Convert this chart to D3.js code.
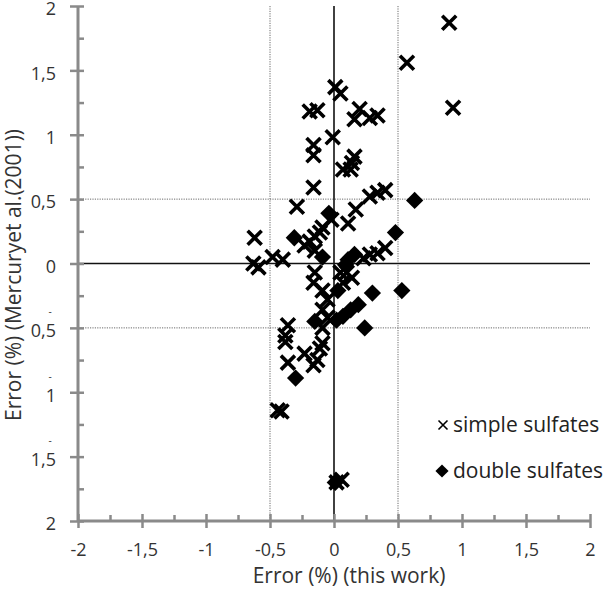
<!DOCTYPE html>
<html>
<head>
<meta charset="utf-8">
<script src="https://cdn.jsdelivr.net/npm/d3@7"></script>
<style>
  html, body { margin: 0; padding: 0; background: #fff; }
  svg { display: block; font-family: "Open Sans", "DejaVu Sans", sans-serif; }
</style>
</head>
<body>
<svg id="chart" width="605" height="590"></svg>
<script>
// Error of this work (x) vs. error of Mercury et al. 2001 (y), in %
const simpleX = [0.90, 0.57, 0.93, 0.01, 0.05, -0.19, -0.13, 0.20, 0.16, 0.28, 0.34, -0.01,
  -0.16, -0.16, 0.16, 0.14, 0.07, 0.13, -0.16, -0.29, 0.28, 0.34, 0.40, 0.17, 0.11, -0.02,
  -0.62, -0.09, -0.11, -0.15, -0.19, -0.23, -0.15, 0.40, 0.34, 0.28, 0.23, -0.63, -0.59,
  -0.48, -0.40, 0.05, 0.10, 0.14, 0.07, -0.15, -0.16, -0.09, -0.05, -0.09, -0.05, -0.09,
  -0.36, -0.38, -0.38, -0.09, -0.11, -0.23, -0.13, -0.36, -0.16, -0.44, -0.41, 0.02, 0.06];
const simpleY = [1.87, 1.56, 1.21, 1.37, 1.32, 1.18, 1.19, 1.20, 1.12, 1.13, 1.15, 0.98,
  0.92, 0.84, 0.83, 0.78, 0.73, 0.73, 0.59, 0.44, 0.52, 0.55, 0.57, 0.42, 0.31, 0.34,
  0.20, 0.28, 0.24, 0.21, 0.17, 0.14, 0.10, 0.12, 0.08, 0.07, 0.04, 0.00, -0.03,
  0.05, 0.03, -0.07, -0.07, -0.11, -0.15, -0.07, -0.15, -0.21, -0.28, -0.36, -0.42, -0.50,
  -0.48, -0.56, -0.61, -0.62, -0.66, -0.70, -0.75, -0.77, -0.79, -1.14, -1.15, -1.70, -1.68];

const doubleX = [0.63, -0.04, 0.48, -0.31, -0.09, 0.16, 0.11, 0.09, 0.03, 0.30, 0.53,
  0.19, 0.13, 0.07, 0.02, -0.15, 0.24, -0.30, 0.01];
const doubleY = [0.49, 0.39, 0.24, 0.20, 0.05, 0.07, 0.03, -0.01, -0.21, -0.23, -0.21,
  -0.32, -0.36, -0.41, -0.44, -0.45, -0.50, -0.89, -1.70];

const xTickValues = [-2, -1.5, -1, -0.5, 0, 0.5, 1, 1.5, 2];
const xTickLabels = ["-2", "-1,5", "-1", "-0,5", "0", "0,5", "1", "1,5", "2"];
const yTickValues = [2, 1.5, 1, 0.5, 0, -0.5, -1, -1.5, -2];
const yTickLabels = ["2", "1,5", "1", "0,5", "0", "-0,5", "-1", "-1,5", "2"];
const minorTicks = [-1.75, -1.25, -0.75, -0.25, 0.25, 0.75, 1.25, 1.75];
const guideValues = [-0.5, 0.5];

const seriesNames = ["simple sulfates", "double sulfates"];
const xTitle = "Error (%) (this work)";
const yTitle = "Error (%) (Mercuryet al.(2001))";

const svg = d3.select("#chart");
const x = d3.scaleLinear().domain([-2, 2]).range([78, 590]);
const y = d3.scaleLinear().domain([-2, 2]).range([521, 6]);

const axisColor = "#8a8a8a";
const textColor = "#333";

// dotted guides at ±0.5
const guides = svg.append("g");
guides.selectAll("line.v").data(guideValues).join("line")
  .attr("x1", d => x(d)).attr("x2", d => x(d))
  .attr("y1", y(2)).attr("y2", y(-2))
  .attr("stroke", "#6a6a6a").attr("stroke-width", 1).attr("stroke-dasharray", "1.2,1.2");
guides.selectAll("line.h").data(guideValues).join("line")
  .attr("y1", d => y(d)).attr("y2", d => y(d))
  .attr("x1", x(-2)).attr("x2", x(2))
  .attr("stroke", "#6a6a6a").attr("stroke-width", 1).attr("stroke-dasharray", "1.2,1.2");

// solid zero lines
svg.append("line").attr("x1", x(0)).attr("x2", x(0)).attr("y1", y(2)).attr("y2", y(-2))
  .attr("stroke", "#111").attr("stroke-width", 1.6);
svg.append("line").attr("x1", x(-2)).attr("x2", x(2)).attr("y1", y(0)).attr("y2", y(0))
  .attr("stroke", "#111").attr("stroke-width", 1.6);

// axes: major ticks cross the axis line, minor ticks point inward
function styleAxis(g) {
  g.select(".domain").remove();
  g.selectAll(".tick line").attr("stroke", axisColor).attr("stroke-width", 2.5);
}

const xAxisG = svg.append("g").attr("transform", `translate(0,${y(-2)})`)
  .call(d3.axisBottom(x).tickValues(xTickValues).tickSize(7).tickPadding(15)
    .tickFormat((d, i) => xTickLabels[i]));
styleAxis(xAxisG);
xAxisG.selectAll(".tick line").attr("y1", -7);
xAxisG.selectAll(".tick text").attr("font-size", 18).attr("fill", textColor)
  .attr("font-family", "Open Sans");

const xMinorG = svg.append("g").attr("transform", `translate(0,${y(-2)})`)
  .call(d3.axisTop(x).tickValues(minorTicks).tickSize(6).tickFormat(""));
styleAxis(xMinorG);

const yAxisG = svg.append("g").attr("transform", `translate(${x(-2)},0)`)
  .call(d3.axisLeft(y).tickValues(yTickValues).tickSize(8).tickPadding(14)
    .tickFormat((d, i) => yTickLabels[i].replace("-", "")));
styleAxis(yAxisG);
yAxisG.selectAll(".tick line").attr("x2", 6).attr("x1", -8);
yAxisG.selectAll(".tick text").attr("font-size", 18).attr("fill", textColor)
  .attr("font-family", "Open Sans").attr("y", 3);
// negative labels carry their minus sign raised above the number
yAxisG.selectAll(".tick").each(function (d, i) {
  if (!yTickLabels[i].startsWith("-")) return;
  d3.select(this).append("text")
    .attr("x", -28).attr("y", -13)
    .attr("text-anchor", "middle").attr("font-size", 10)
    .attr("fill", textColor).attr("font-family", "Open Sans").text("-");
});

const yMinorG = svg.append("g").attr("transform", `translate(${x(-2)},0)`)
  .call(d3.axisRight(y).tickValues(minorTicks).tickSize(6).tickFormat(""));
styleAxis(yMinorG);

// axis lines on top of the ticks
svg.append("line").attr("x1", x(-2)).attr("x2", x(-2)).attr("y1", y(2)).attr("y2", y(-2))
  .attr("stroke", axisColor).attr("stroke-width", 3);
svg.append("line").attr("x1", x(-2)).attr("x2", x(2)).attr("y1", y(-2)).attr("y2", y(-2))
  .attr("stroke", axisColor).attr("stroke-width", 3);

// titles
svg.append("text").attr("x", 349).attr("y", 583).attr("text-anchor", "middle")
  .attr("font-size", 21).attr("fill", textColor).text(xTitle);
svg.append("text").attr("transform", "translate(21,275) rotate(-90)")
  .attr("text-anchor", "middle").attr("font-size", 21).attr("fill", textColor).text(yTitle);

// markers
const crossSize = 7;
const crossPath = `M${-crossSize},${-crossSize}L${crossSize},${crossSize}M${-crossSize},${crossSize}L${crossSize},${-crossSize}`;
const diamond = d3.symbol().type(d3.symbolDiamond2).size(190);

const simple = simpleX.map((v, i) => ({ x: v, y: simpleY[i] }));
const double = doubleX.map((v, i) => ({ x: v, y: doubleY[i] }));

svg.append("g").selectAll("path").data(double).join("path")
  .attr("transform", d => `translate(${x(d.x)},${y(d.y)})`)
  .attr("d", diamond).attr("fill", "#000");

svg.append("g").selectAll("path").data(simple).join("path")
  .attr("transform", d => `translate(${x(d.x)},${y(d.y)})`)
  .attr("d", crossPath).attr("stroke", "#000").attr("stroke-width", 3.6).attr("fill", "none");

// legend
const leg = svg.append("g");
leg.append("path").attr("transform", "translate(443,425)")
  .attr("d", "M-4.5,-4.5L4.5,4.5M-4.5,4.5L4.5,-4.5").attr("stroke", "#000").attr("stroke-width", 1.6);
leg.append("text").attr("x", 453).attr("y", 432).attr("font-size", 21).attr("fill", "#222")
  .text(seriesNames[0]);
leg.append("path").attr("transform", "translate(442,471)")
  .attr("d", d3.symbol().type(d3.symbolDiamond2).size(110)).attr("fill", "#000");
leg.append("text").attr("x", 453).attr("y", 478).attr("font-size", 21).attr("fill", "#222")
  .text(seriesNames[1]);
</script>
</body>
</html>
